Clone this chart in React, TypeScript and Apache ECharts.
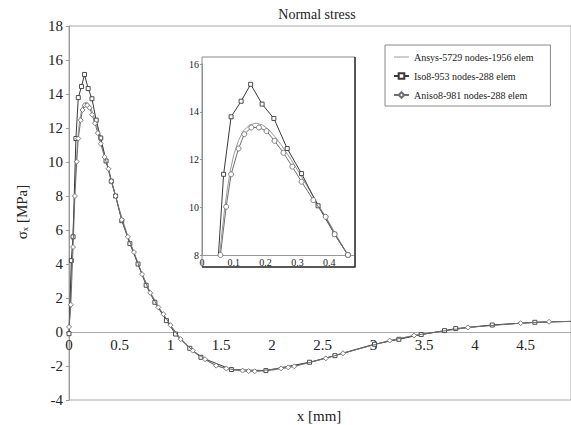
import React, { useEffect, useRef } from "react";
import * as echarts from "echarts";

const TITLE = "Normal stress";
const X_NAME = "x [mm]";
const Y_NAME = "σₓ [MPa]";
const SERIES_NAMES = [
  "Ansys-5729 nodes-1956 elem",
  "Iso8-953 nodes-288 elem",
  "Aniso8-981 nodes-288 elem",
];

const ansys: [number, number][] = [
  [0, 0], [0.01, 1.0], [0.02, 2.8], [0.03, 4.5], [0.04, 6.0], [0.05, 7.3],
  [0.06, 8.6], [0.07, 9.8], [0.08, 10.8], [0.09, 11.6], [0.1, 12.2],
  [0.115, 12.8], [0.13, 13.2], [0.15, 13.45], [0.17, 13.52], [0.19, 13.45],
  [0.21, 13.25], [0.23, 12.95], [0.25, 12.6], [0.28, 12.0], [0.31, 11.35],
  [0.35, 10.45], [0.4, 9.35], [0.45, 8.2], [0.5, 7.15], [0.6, 5.25],
  [0.7, 3.7], [0.8, 2.35], [0.9, 1.3], [1.0, 0.38], [1.1, -0.38],
  [1.2, -0.97], [1.3, -1.47], [1.4, -1.83], [1.5, -2.07], [1.6, -2.22],
  [1.7, -2.3], [1.8, -2.33], [1.9, -2.31], [2.0, -2.25], [2.2, -2.04],
  [2.4, -1.75], [2.6, -1.41], [2.8, -1.06], [3.0, -0.74], [3.2, -0.47],
  [3.4, -0.22], [3.6, -0.02], [3.8, 0.16], [4.0, 0.3], [4.2, 0.42],
  [4.4, 0.5], [4.6, 0.57], [4.8, 0.61], [5.0, 0.63],
];

const iso8: [number, number][] = [
  [0, -0.1], [0.023, 4.2], [0.04, 5.6], [0.068, 11.38], [0.0915, 13.79],
  [0.123, 14.44], [0.153, 15.15], [0.189, 14.32], [0.226, 13.72],
  [0.268, 12.46], [0.313, 11.41], [0.365, 10.06], [0.417, 8.87],
  [0.459, 8.0], [0.52, 6.55], [0.6, 5.2], [0.68, 4.0], [0.76, 2.75],
  [0.846, 1.75], [0.96, 0.67], [1.05, -0.12], [1.19, -0.96], [1.3, -1.49],
  [1.6, -2.21], [1.94, -2.27], [2.37, -1.78], [2.62, -1.39], [3.01, -0.72],
  [3.25, -0.43], [3.47, -0.15], [3.7, 0.08], [3.81, 0.2], [4.17, 0.41],
  [4.59, 0.57], [5.0, 0.63],
];

const aniso8: [number, number][] = [
  [0, 0.3], [0.018, 1.6], [0.04, 5.0], [0.058, 8.0], [0.076, 10.02],
  [0.0915, 11.38], [0.115, 12.46], [0.133, 13.06], [0.155, 13.34],
  [0.179, 13.34], [0.203, 13.19], [0.228, 12.78], [0.256, 12.28],
  [0.284, 11.7], [0.313, 11.07], [0.35, 10.3], [0.389, 9.6], [0.417, 8.87],
  [0.459, 8.0], [0.52, 6.6], [0.58, 5.6], [0.64, 4.7], [0.72, 3.4],
  [0.8, 2.3], [0.88, 1.45], [0.93, 1.05], [1.0, 0.4], [1.1, -0.42],
  [1.22, -1.1], [1.34, -1.6], [1.45, -1.98], [1.55, -2.15], [1.71, -2.27],
  [1.77, -2.3], [1.83, -2.31], [2.09, -2.14], [2.16, -2.08], [2.22, -2.02],
  [2.53, -1.55], [2.7, -1.25], [3.16, -0.5], [3.4, -0.2], [3.93, 0.27],
  [4.45, 0.52], [4.73, 0.6], [5.0, 0.63],
];

const FONT = "'Liberation Serif', 'Times New Roman', serif";

export default function App() {
  const ref = useRef<HTMLDivElement>(null);
  useEffect(() => {
    const chart = echarts.init(ref.current!, null, { renderer: "svg" });
    const lineStyles = [
      { color: "#9a9a9a", width: 1 },
      { color: "#3a3a3a", width: 1 },
      { color: "#707070", width: 1 },
    ];
    const mk = (i: number, data: [number, number][], inset: boolean) => ({
      type: "line",
      name: SERIES_NAMES[i],
      data,
      xAxisIndex: inset ? 1 : 0,
      yAxisIndex: inset ? 1 : 0,
      clip: true,
      smooth: false,
      symbol: i === 0 ? "none" : i === 1 ? "rect" : inset ? "circle" : "diamond",
      symbolSize: i === 1 ? 4 : 5,
      showSymbol: i !== 0,
      lineStyle: lineStyles[i],
      itemStyle: { color: "#fff", borderColor: lineStyles[i].color, borderWidth: 0.9 },
      emphasis: { disabled: true },
      z: 3 + i,
    });
    chart.setOption({
      animation: false,
      backgroundColor: "#fff",
      textStyle: { fontFamily: FONT },
      grid: [
        { left: 69, top: 26, right: -1, bottom: 25, show: true, borderColor: "#aaa", borderWidth: 1 },
        { left: 202, top: 64, width: 152, height: 191 },
      ],
      xAxis: [
        {
          gridIndex: 0, type: "value", min: 0, max: 4.946, interval: 0.5,
          position: "bottom", offset: -68,
          axisLine: { show: true, onZero: false, lineStyle: { color: "#aaa" } },
          axisTick: { show: false }, splitLine: { show: false },
          axisLabel: { showMaxLabel: false, showMinLabel: true, fontSize: 15, fontFamily: FONT, color: "#222", margin: 5 },
        },
        {
          gridIndex: 1, type: "value", min: 0, max: 0.478, interval: 0.1,
          axisLine: { show: true, onZero: false, lineStyle: { color: "#999" } },
          axisTick: { show: false }, splitLine: { show: false },
          axisLabel: { showMaxLabel: false, showMinLabel: true, fontSize: 10, fontFamily: FONT, color: "#222", margin: 2 },
        },
      ],
      yAxis: [
        {
          gridIndex: 0, type: "value", min: -4, max: 18, interval: 2,
          axisLine: { show: true, onZero: false, lineStyle: { color: "#999" } },
          axisTick: { show: true, length: 3, lineStyle: { color: "#999" } },
          splitLine: { show: false },
          axisLabel: { fontSize: 15, fontFamily: FONT, color: "#222", margin: 6 },
        },
        {
          gridIndex: 1, type: "value", min: 8, max: 16, interval: 2,
          axisLine: { show: true, onZero: false, lineStyle: { color: "#999" } },
          axisTick: { show: true, length: 2, lineStyle: { color: "#999" } },
          splitLine: { show: false },
          axisLabel: { fontSize: 10, fontFamily: FONT, color: "#222", margin: 3 },
        },
      ],
      legend: {
        data: [
          {
            name: SERIES_NAMES[0],
            icon: "path://M0,0 M15,7 M0,3 L15,3 L15,4 L0,4 Z",
            itemStyle: { color: "#9a9a9a", borderWidth: 0 },
          },
          { name: SERIES_NAMES[1] },
          { name: SERIES_NAMES[2] },
        ],
        orient: "vertical",
        left: 385,
        top: 45,
        padding: [6, 17, 5, 8],
        borderColor: "#888",
        borderWidth: 1,
        itemWidth: 15,
        itemHeight: 7,
        itemGap: 7,
        textStyle: { fontSize: 10, lineHeight: 12, fontFamily: FONT, color: "#222" },
        selectedMode: false,
      },
      graphic: [
        {
          type: "text", x: 317, y: 14,
          style: { text: TITLE, font: `14px ${FONT}`, fill: "#222", textAlign: "center", textVerticalAlign: "middle" },
        },
        {
          type: "text", x: 319, y: 416,
          style: { text: X_NAME, font: `15px ${FONT}`, fill: "#222", textAlign: "center", textVerticalAlign: "middle" },
        },
        {
          type: "text", x: 22, y: 212, rotation: Math.PI / 2,
          style: { text: Y_NAME, font: `15px ${FONT}`, fill: "#222", textAlign: "center", textVerticalAlign: "middle" },
        },
        {
          type: "rect", shape: { x: 202, y: 57, width: 153, height: 210 },
          style: { fill: "none", stroke: "#888", lineWidth: 1 }, z: 10,
        },
        {
          type: "polyline", shape: { points: [[355, 57], [355, 267], [202, 267]] },
          style: { fill: "none", stroke: "#333", lineWidth: 1.5 }, z: 10,
        },
      ],
      series: [
        mk(0, ansys, false), mk(1, iso8, false), mk(2, aniso8, false),
        mk(0, ansys, true), mk(1, iso8, true), mk(2, aniso8, true),
      ],
    });
    return () => chart.dispose();
  }, []);
  return (
    <div
      ref={ref}
      style={{ position: "fixed", left: 0, top: 0, width: 571, height: 425, background: "#fff" }}
    />
  );
}
